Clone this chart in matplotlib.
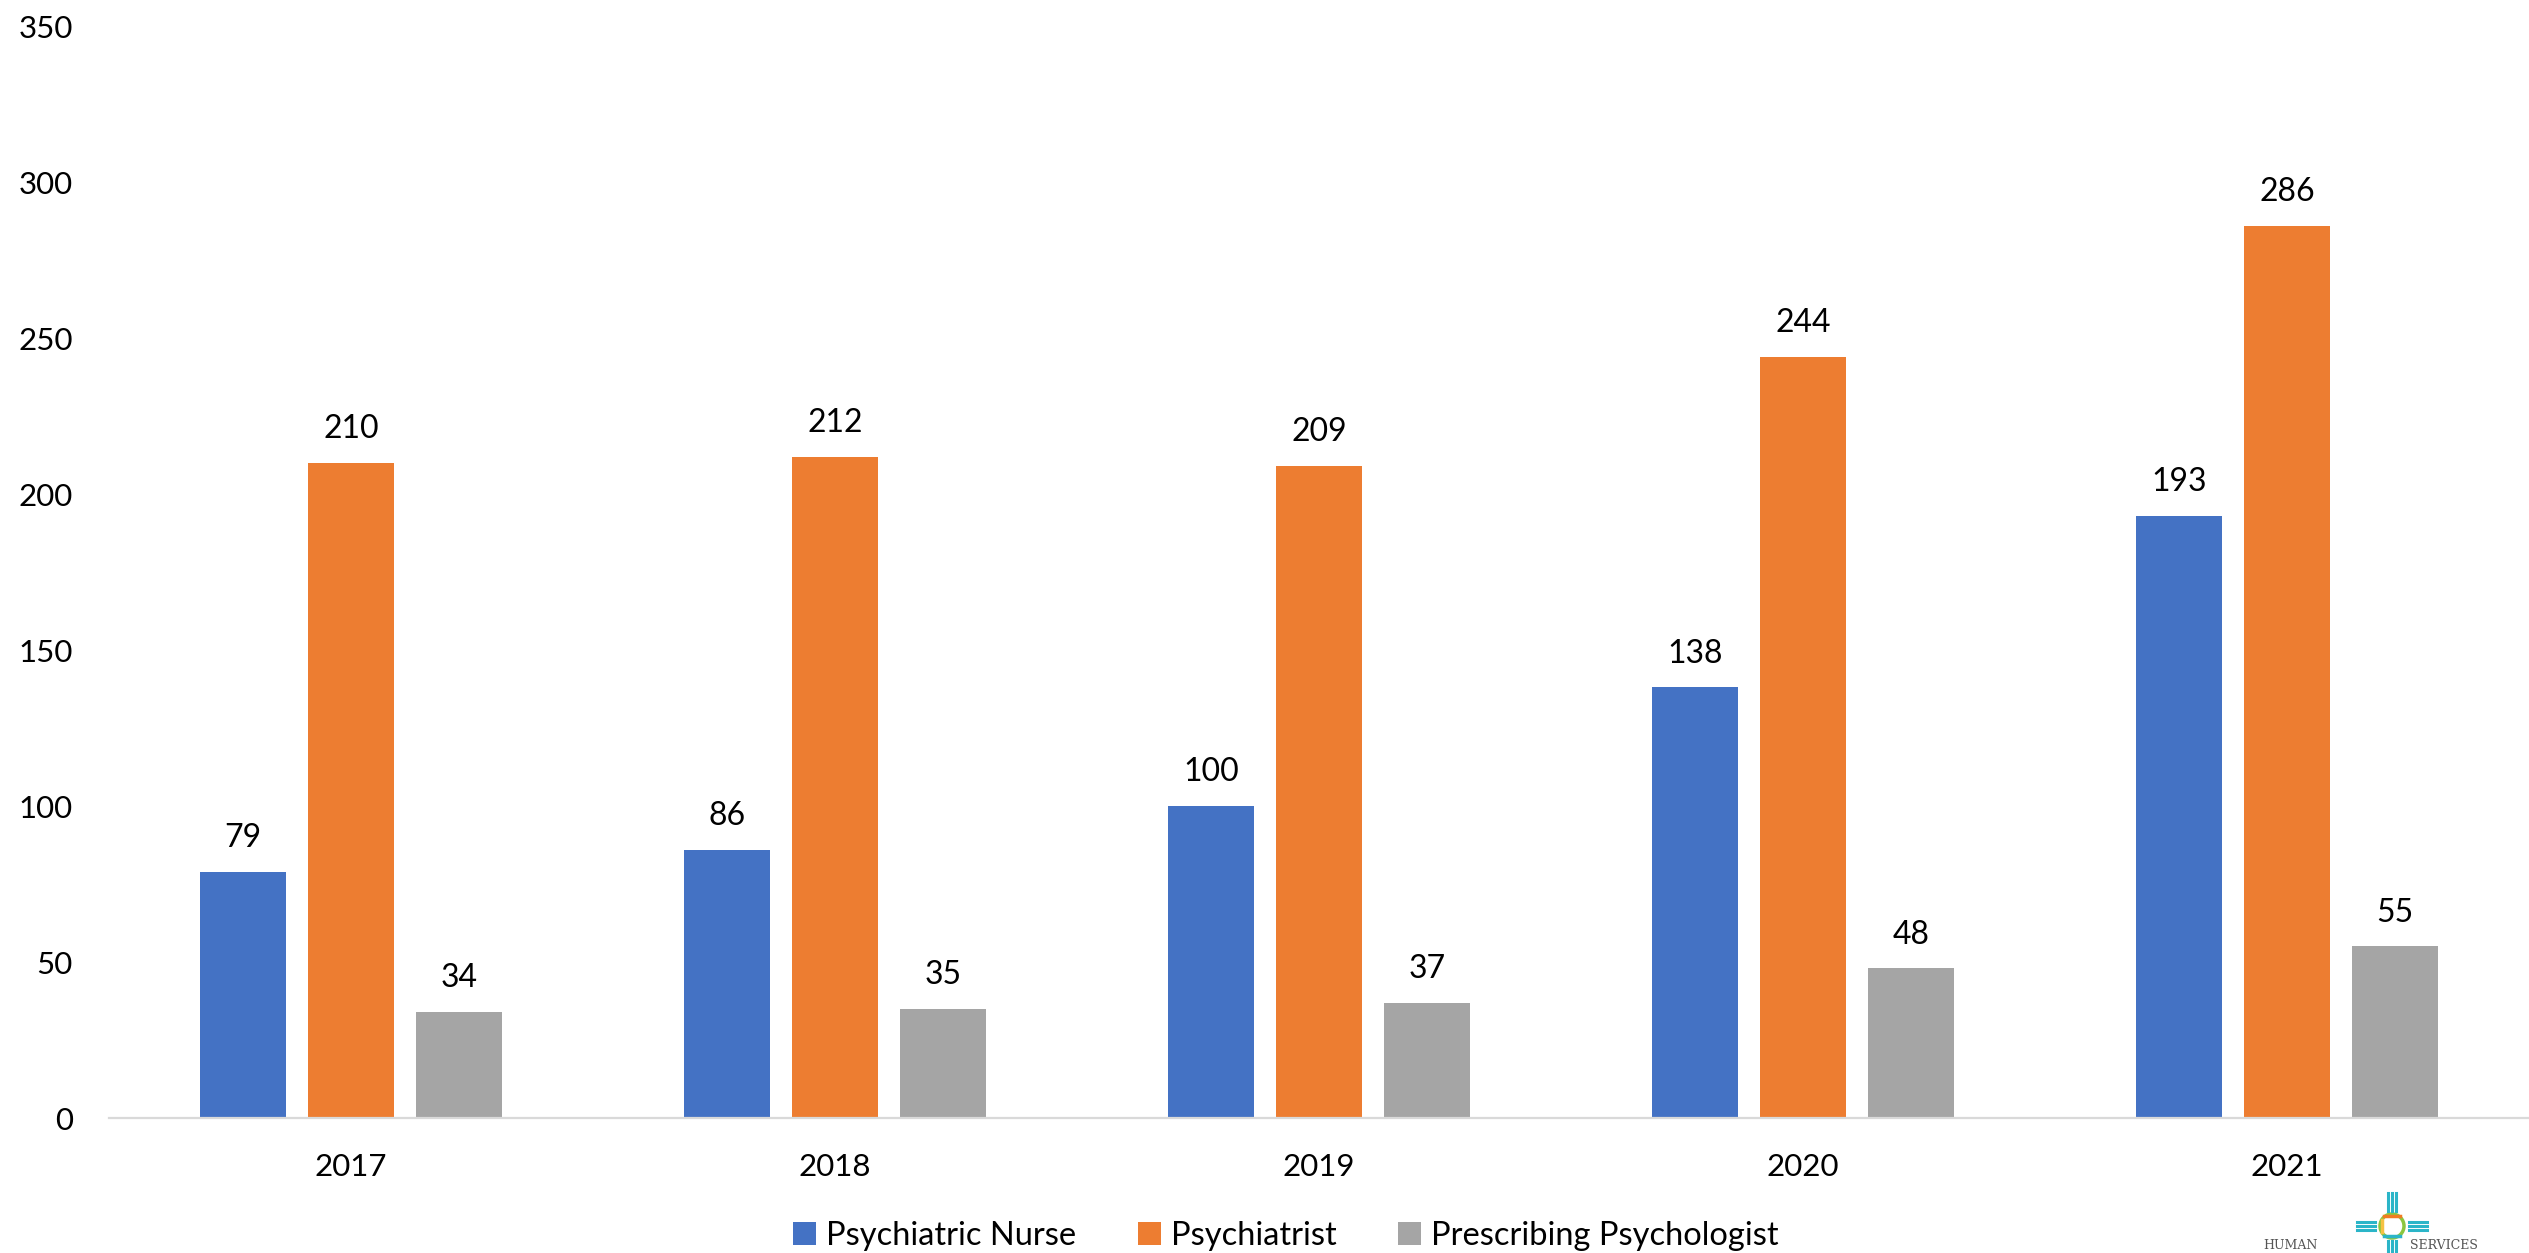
import matplotlib.pyplot as plt
from matplotlib.patches import Patch, Circle
import numpy as np

plt.rcParams['font.family'] = ['Lato', 'DejaVu Sans']

years = ['2017', '2018', '2019', '2020', '2021']
series = ['Psychiatric Nurse', 'Psychiatrist', 'Prescribing Psychologist']
nurse = [79, 86, 100, 138, 193]
psychiatrist = [210, 212, 209, 244, 286]
psychologist = [34, 35, 37, 48, 55]
colors = ['#4472C4', '#ED7D31', '#A5A5A5']

W, H = 2529, 1253
fig = plt.figure(figsize=(W / 100, H / 100), dpi=100)
# plot area in pixels: left 109, right edge of fig, zero line at y=1118, 350 at y=26
ax = fig.add_axes([109 / W, (H - 1118) / H, (W - 109) / W, (1118 - 26) / H])

x = np.arange(len(years))
width = 0.176
step = 0.223
for i, (vals, col) in enumerate(zip([nurse, psychiatrist, psychologist], colors)):
    pos = x + (i - 1) * step
    bars = ax.bar(pos, vals, width, color=col, zorder=2)
    for b, v in zip(bars, vals):
        ax.text(b.get_x() + b.get_width() / 2, v + 6, str(v),
                ha='center', va='bottom', fontsize=23, color='black')

ax.set_xlim(-0.5, 4.5)
ax.set_ylim(0, 350)
ax.set_yticks(range(0, 351, 50))
ax.set_xticks(x)
ax.set_xticklabels(years)
ax.tick_params(axis='both', length=0, labelsize=22.5)
ax.tick_params(axis='y', pad=26)
ax.tick_params(axis='x', pad=25)
for s in ['top', 'right', 'left']:
    ax.spines[s].set_visible(False)
ax.spines['bottom'].set_color('#D9D9D9')
ax.spines['bottom'].set_linewidth(1.6)

handles = [Patch(facecolor=c, label=l) for c, l in zip(colors, series)]
fig.legend(handles=handles, loc='center', bbox_to_anchor=(1286 / W, 1 - 1236 / H),
           ncol=3, frameon=False, fontsize=23.5, handlelength=0.7, handleheight=0.7,
           handletextpad=0.3, columnspacing=1.9)

# little logo in bottom right corner
lx = fig.add_axes([2250 / W, 0, 279 / W, 103 / H])
lx.set_xlim(2250, 2529)
lx.set_ylim(1253, 1150)
lx.axis('off')
teal = '#2BB5C8'
cx, cy = 2392, 1226
for d in (-4, 0, 4):
    lx.plot([2357, 2375], [cy + d, cy + d], color=teal, lw=2.2)
    lx.plot([2409, 2427], [cy + d, cy + d], color=teal, lw=2.2)
    lx.plot([cx + d, cx + d], [1193, 1211], color=teal, lw=2.2)
    lx.plot([cx + d, cx + d], [1241, 1253], color=teal, lw=2.2)
ring = Circle((cx, cy), 12, fill=False, lw=2.5, ec='#8CC63F')
lx.add_patch(ring)
lx.plot([cx - 8, cx + 8], [cy - 10, cy - 10], color='#F07C22', lw=2.5)
lx.plot([cx - 10, cx - 10], [cy - 6, cy + 6], color='#F5C142', lw=2.5)
lx.plot([cx - 8, cx + 8], [cy + 10, cy + 10], color=teal, lw=2.5)
lx.text(2263, 1252, 'HUMAN', fontsize=9, family='DejaVu Serif', color='#555555',
        va='bottom', ha='left')
lx.text(2410, 1252, 'SERVICES', fontsize=9, family='DejaVu Serif', color='#555555',
        va='bottom', ha='left')

fig.savefig('out.png', dpi=100)
